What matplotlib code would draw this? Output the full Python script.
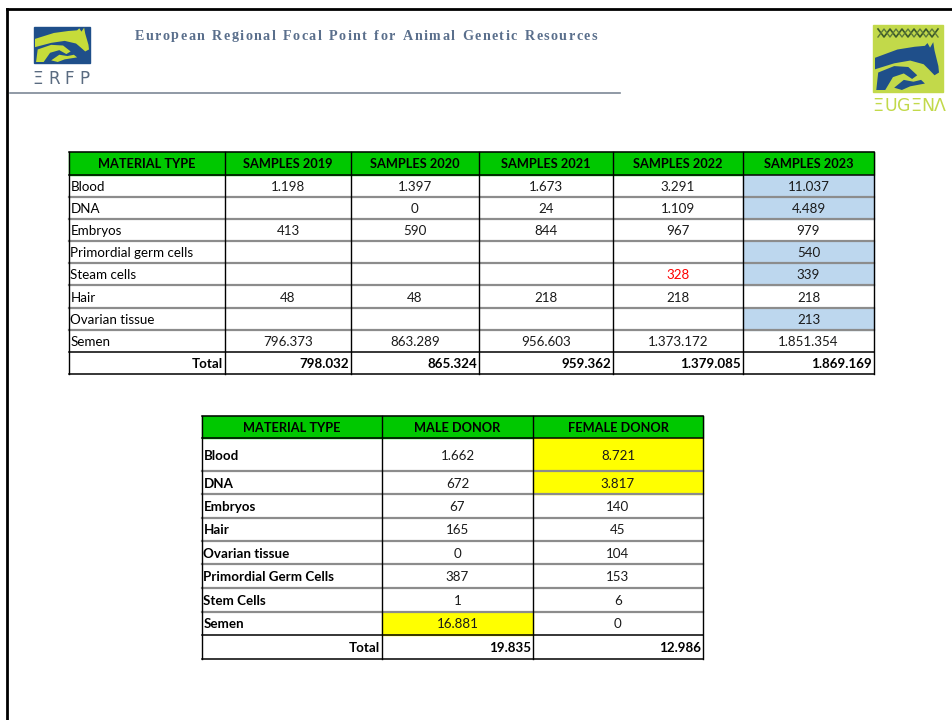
import matplotlib
matplotlib.use("Agg")
import matplotlib.pyplot as plt
from matplotlib.patches import Rectangle, Polygon

# ---- data: table 1 (samples per year) ----
materials1 = ["Blood", "DNA", "Embryos", "Primordial germ cells", "Steam cells",
              "Hair", "Ovarian tissue", "Semen"]
year_headers = ["SAMPLES 2019", "SAMPLES 2020", "SAMPLES 2021", "SAMPLES 2022", "SAMPLES 2023"]
s2019 = [1198, None, 413, None, None, 48, None, 796373]
s2020 = [1397, 0, 590, None, None, 48, None, 863289]
s2021 = [1673, 24, 844, None, None, 218, None, 956603]
s2022 = [3291, 1109, 967, None, 328, 218, None, 1373172]
s2023 = [11037, 4489, 979, 540, 339, 218, 213, 1851354]
totals1 = [798032, 865324, 959362, 1379085, 1869169]

# ---- data: table 2 (donor sex) ----
materials2 = ["Blood", "DNA", "Embryos", "Hair", "Ovarian tissue",
              "Primordial Germ Cells", "Stem Cells", "Semen"]
donor_headers = ["MALE DONOR", "FEMALE DONOR"]
male = [1662, 672, 67, 165, 0, 387, 1, 16881]
female = [8721, 3817, 140, 45, 104, 153, 6, 0]
totals2 = [19835, 12986]

title = "European Regional Focal Point for Animal Genetic Resources"

GREEN = "#00c800"
BLUE_CELL = "#bdd7ee"
YELLOW = "#ffff00"
GRID = "#8c8c8c"
FONT = "Lato"
BODY = 9.6
HEAD = 9.2


def fmt(v):
    if v is None:
        return ""
    return f"{v:,}".replace(",", ".")


fig = plt.figure(figsize=(9.53, 7.2), dpi=100)
ax = fig.add_axes([0, 0, 1, 1])
ax.set_xlim(0, 953)
ax.set_ylim(720, 0)
ax.axis("off")

# slide frame
ax.plot([7, 7], [9, 720], color="black", lw=2)
ax.plot([7, 953], [9, 9], color="black", lw=2)
ax.plot([10, 620], [93, 93], color="#7d8896", lw=1.2)

# letter spaced title
renderer = fig.canvas.get_renderer()
widths = []
for ch in title:
    t = ax.text(0, 36, ch if ch != " " else "n", fontsize=10.2, family="Liberation Serif",
                fontweight="bold", color="#5a6f8c", va="center")
    w = t.get_window_extent(renderer).width
    if ch == " ":
        w = w * 0.6
    t.remove()
    widths.append(w)
gap = (462 - sum(widths)) / (len(title) - 1)
x = 135
for ch, w in zip(title, widths):
    if ch != " ":
        ax.text(x, 36, ch, fontsize=10.2, family="Liberation Serif", fontweight="bold",
                color="#5a6f8c", va="center", ha="left")
    x += w + gap


def horse(x0, y0, w, h, color, z=3):
    head = [(0.0, 0.30), (0.35, 0.12), (0.62, 0.06), (0.78, 0.04), (0.82, -0.02), (0.86, 0.08),
            (0.91, -0.04), (0.93, 0.14), (0.99, 0.48), (1.0, 0.62), (0.93, 0.68), (0.84, 0.55),
            (0.76, 0.44), (0.55, 0.36), (0.3, 0.42), (0.0, 0.55)]
    second = [(0.05, 0.62), (0.3, 0.48), (0.52, 0.50), (0.66, 0.68), (0.58, 0.76), (0.45, 0.64),
              (0.28, 0.72), (0.16, 1.0), (0.02, 1.0)]
    third = [(0.3, 0.95), (0.45, 0.78), (0.6, 0.82), (0.72, 0.78), (0.78, 0.86), (0.55, 0.92), (0.42, 1.0)]
    for shape in (head, second, third):
        pts = [(x0 + u * w, y0 + v * h) for u, v in shape]
        ax.add_patch(Polygon(pts, closed=True, color=color, zorder=z, lw=0))


# ERFP logo
ax.add_patch(Rectangle((34, 27), 56, 36, color="#1f4f8a", zorder=2))
horse(35, 29, 54, 33, "#c6dc3a")
for ch, xc in zip("ΞRFP", [38, 54, 69, 84]):
    ax.text(xc, 79, ch, fontsize=12, family="DejaVu Sans", color="#5a6b80",
            va="center", ha="center")

# EUGENA logo
ax.add_patch(Rectangle((873, 25), 70, 67, color="#c2d94a", zorder=2))
wave_x = [878, 884, 890, 896, 902, 908, 914, 920, 926, 932, 938]
wave_y = [29, 37, 29, 37, 29, 37, 29, 37, 29, 37, 29]
ax.plot(wave_x, wave_y, color="#3d5a2a", lw=1.2, zorder=3)
ax.plot(wave_x, [66 - v for v in wave_y], color="#5d7a3a", lw=1.0, zorder=3)
horse(875, 44, 64, 46, "#1f4f8a")
for ch, xc in zip("ΞUGΞNΛ", [878, 891, 904, 916, 928, 940]):
    ax.text(xc, 106, ch, fontsize=12.5, family="DejaVu Sans", color="#c2d94a",
            va="center", ha="center")


def draw_table(x_edges, y_edges, headers, labels, columns, totals, fills, colors, bold_labels):
    ncol = len(x_edges) - 1
    nrow = len(y_edges) - 1
    # header background
    ax.add_patch(Rectangle((x_edges[0], y_edges[0]), x_edges[-1] - x_edges[0],
                           y_edges[1] - y_edges[0], color=GREEN, zorder=1))
    for (r, c), col in fills.items():
        ax.add_patch(Rectangle((x_edges[c], y_edges[r + 1]), x_edges[c + 1] - x_edges[c],
                               y_edges[r + 2] - y_edges[r + 1], color=col, zorder=1))
    # horizontal lines
    for i, y in enumerate(y_edges):
        if i in (0, 1, nrow - 1, nrow):
            ax.plot([x_edges[0], x_edges[-1]], [y, y], color="black", lw=1.1, zorder=4)
        else:
            ax.plot([x_edges[0], x_edges[-1]], [y, y], color=GRID, lw=1.6, zorder=4)
    for xv in x_edges:
        ax.plot([xv, xv], [y_edges[0], y_edges[-1]], color="black", lw=1.0, zorder=5)
    # header text
    for c in range(ncol):
        ax.text((x_edges[c] + x_edges[c + 1]) / 2, (y_edges[0] + y_edges[1]) / 2 + 1,
                headers[c], ha="center", va="center", fontsize=HEAD, family=FONT,
                fontweight="bold", zorder=6)
    # body rows
    for r, lab in enumerate(labels):
        yc = (y_edges[r + 1] + y_edges[r + 2]) / 2 + 1
        ax.text(x_edges[0] + 1.5, yc, lab, ha="left", va="center", fontsize=BODY,
                family=FONT, fontweight="bold" if bold_labels else "normal", zorder=6)
        for c, vals in enumerate(columns):
            ax.text((x_edges[c + 1] + x_edges[c + 2]) / 2, yc, fmt(vals[r]), ha="center",
                    va="center", fontsize=BODY, family=FONT,
                    color=colors.get((r, c + 1), "#1a1a1a"), zorder=6)
    # totals row
    yc = (y_edges[-2] + y_edges[-1]) / 2 + 1
    ax.text(x_edges[1] - 2, yc, "Total", ha="right", va="center", fontsize=BODY,
            family=FONT, fontweight="bold", zorder=6)
    for c, v in enumerate(totals):
        ax.text(x_edges[c + 2] - 2, yc, fmt(v), ha="right", va="center", fontsize=BODY,
                family=FONT, fontweight="bold", zorder=6)


# table 1
x1 = [69, 225, 351, 479, 613, 743, 874]
y1 = [152, 175, 197, 219, 241, 263, 285, 308, 330, 352, 374]
fills1 = {(r, 5): BLUE_CELL for r in (0, 1, 3, 4, 6)}
colors1 = {(4, 4): "#ff0000"}
draw_table(x1, y1, ["MATERIAL TYPE"] + year_headers, materials1,
           [s2019, s2020, s2021, s2022, s2023], totals1, fills1, colors1, False)

# table 2
x2 = [202, 382, 533, 703]
y2 = [416, 438, 471, 494, 518, 541, 564, 588, 612, 635, 659]
fills2 = {(0, 2): YELLOW, (1, 2): YELLOW, (7, 1): YELLOW}
draw_table(x2, y2, ["MATERIAL TYPE"] + donor_headers, materials2,
           [male, female], totals2, fills2, {}, True)

fig.savefig("out.png", dpi=100)
